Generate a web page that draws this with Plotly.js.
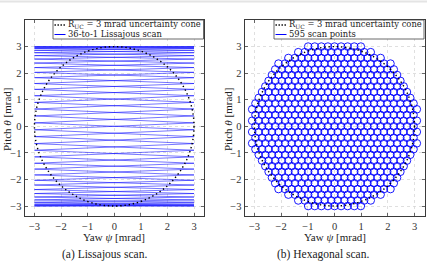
<!DOCTYPE html>
<html>
<head>
<meta charset="utf-8">
<script src="https://cdn.plot.ly/plotly-3.0.1.min.js"></script>
<style>
  html, body { margin: 0; padding: 0; background: #ffffff; }
  #chart { width: 427px; height: 261px; }
</style>
</head>
<body>
<div id="chart"></div>
<script>
// ---- Data -------------------------------------------------------------
// Radius of the uncertainty cone (mrad)
const coneRadius = 3;

// Lissajous scan: yaw amplitude (mrad) and the pitch at each sweep turn
// (positive half; the scan runs up through these, back down, then mirrors
// through the negative half)
const lissajousYawAmplitude = 3;
const lissajousPitchLevels = [0.13, 0.39, 0.65, 0.90, 1.15, 1.39, 1.61, 1.83, 2.03,
                              2.21, 2.38, 2.53, 2.66, 2.77, 2.86, 2.93, 2.97, 3.00];

// Hexagonal scan: pitch of each row (top to bottom), number of points in each
// row, and the yaw spacing between neighbouring points in a row
const hexRowPitch = [3.00, 2.79, 2.57, 2.36, 2.14, 1.93, 1.71, 1.50, 1.29, 1.07,
                     0.86, 0.64, 0.43, 0.21, 0.00, -0.21, -0.43, -0.64, -0.86, -1.07,
                     -1.29, -1.50, -1.71, -1.93, -2.14, -2.36, -2.57, -2.79, -3.00];
const hexRowCount = [9, 12, 15, 18, 19, 20, 21, 22, 23, 24, 25, 26, 25, 26, 25,
                     26, 25, 26, 25, 24, 23, 22, 21, 20, 19, 18, 15, 12, 9];
const hexYawSpacing = 0.247;

const tickValues = [-3, -2, -1, 0, 1, 2, 3];

// ---- Lissajous path: one turn point per sweep, alternating edges ----------
const n = lissajousPitchLevels.length;
const turnPitch = [];
for (let k = 0; k < n; k++) turnPitch.push(lissajousPitchLevels[k]);
for (let k = n - 1; k >= 0; k--) turnPitch.push(lissajousPitchLevels[k]);
for (let k = 0; k < n; k++) turnPitch.push(-lissajousPitchLevels[k]);
for (let k = n - 1; k >= 0; k--) turnPitch.push(-lissajousPitchLevels[k]);
const lisX = [], lisY = [];
turnPitch.forEach((p, k) => {
  lisX.push(k % 2 === 0 ? lissajousYawAmplitude : -lissajousYawAmplitude);
  lisY.push(p);
});
lisX.push(lisX[0]); lisY.push(lisY[0]);

// ---- Hexagonal grid points ------------------------------------------------
const hexX = [], hexY = [];
hexRowPitch.forEach((p, r) => {
  const c = hexRowCount[r];
  for (let j = 0; j < c; j++) {
    hexX.push((j - (c - 1) / 2) * hexYawSpacing);
    hexY.push(p);
  }
});

// ---- Layout helpers (pixel -> paper) --------------------------------------
const W = 427, H = 261;
const px = x => x / W;
const py = y => 1 - y / H;

const serif = 'Liberation Serif, Times New Roman, serif';
const wideSerif = 'DejaVu Serif, serif';
const blue = 'rgb(0,0,255)';

function axisCommon(extra) {
  return Object.assign({
    tickvals: tickValues,
    ticks: 'inside', ticklen: 3, tickwidth: 0.8, tickcolor: '#444',
    showline: true, linecolor: '#3a3a3a', linewidth: 1, mirror: 'ticks',
    showgrid: true, gridcolor: '#d2d2d2', gridwidth: 0.7, griddash: 'dot',
    zeroline: false,
    tickfont: { family: serif, size: 10.5, color: '#333' },
    fixedrange: true
  }, extra);
}

const yDomain = [py(216), py(20)];

const traces = [
  {
    x: lisX, y: lisY, xaxis: 'x', yaxis: 'y',
    type: 'scatter', mode: 'lines',
    line: { color: 'rgba(0,0,255,0.72)', width: 0.75 },
    hoverinfo: 'skip', showlegend: false
  },
  {
    x: hexX, y: hexY, xaxis: 'x2', yaxis: 'y2',
    type: 'scatter', mode: 'markers',
    marker: { symbol: 'circle-open', size: 7.6, color: blue, line: { width: 0.9, color: blue } },
    hoverinfo: 'skip', showlegend: false
  }
];

const cone = (xr, yr) => ({
  type: 'circle', xref: xr, yref: yr, layer: 'above',
  x0: -coneRadius, x1: coneRadius, y0: -coneRadius, y1: coneRadius,
  line: { color: '#000', width: 1.4, dash: '1.4px,2.8px' }
});

// Legend boxes: two rows, 9.5 px apart
const rowGap = 9.5;
function legendShapes(x0, x1, y0) {
  const y1 = y0 + 5 + rowGap + 4.5;
  const s = [];
  s.push({ type: 'rect', xref: 'paper', yref: 'paper', layer: 'above',
           x0: px(x0), x1: px(x1), y0: py(y1), y1: py(y0),
           fillcolor: '#fff', line: { color: '#444', width: 0.8 } });
  s.push({ type: 'line', xref: 'paper', yref: 'paper', layer: 'above',
           x0: px(x0 + 1.5), x1: px(x0 + 12.5), y0: py(y0 + 5), y1: py(y0 + 5),
           line: { color: '#000', width: 1.3, dash: '1.4px,1.6px' } });
  s.push({ type: 'line', xref: 'paper', yref: 'paper', layer: 'above',
           x0: px(x0 + 1.5), x1: px(x0 + 12.5), y0: py(y0 + 5 + rowGap), y1: py(y0 + 5 + rowGap),
           line: { color: blue, width: 1 } });
  return s;
}

function legendText(x0, y0, second) {
  const f = { family: wideSerif, size: 8.4, color: '#222' };
  return [
    { xref: 'paper', yref: 'paper', x: px(x0 + 13), y: py(y0 + 4.6), xanchor: 'left', yanchor: 'middle',
      text: 'R<sub>UC</sub> = 3 mrad uncertainty cone', showarrow: false, font: f },
    { xref: 'paper', yref: 'paper', x: px(x0 + 13), y: py(y0 + 4.8 + rowGap), xanchor: 'left', yanchor: 'middle',
      text: second, showarrow: false, font: f }
  ];
}

const titleFont = { family: serif, size: 11, color: '#222' };
const capFont = { family: serif, size: 11.5, color: '#222' };

const annotations = [
  { xref: 'paper', yref: 'paper', x: px(114), y: py(237), xanchor: 'center', yanchor: 'middle',
    text: 'Yaw <i>ψ</i> [mrad]', showarrow: false, font: titleFont },
  { xref: 'paper', yref: 'paper', x: px(334.5), y: py(237), xanchor: 'center', yanchor: 'middle',
    text: 'Yaw <i>ψ</i> [mrad]', showarrow: false, font: titleFont },
  { xref: 'paper', yref: 'paper', x: px(7), y: py(120), xanchor: 'center', yanchor: 'middle',
    text: 'Pitch <i>θ</i> [mrad]', textangle: -90, showarrow: false, font: titleFont },
  { xref: 'paper', yref: 'paper', x: px(228), y: py(120), xanchor: 'center', yanchor: 'middle',
    text: 'Pitch <i>θ</i> [mrad]', textangle: -90, showarrow: false, font: titleFont },
  { xref: 'paper', yref: 'paper', x: px(104), y: py(254), xanchor: 'center', yanchor: 'middle',
    text: '(a) Lissajous scan.', showarrow: false, font: capFont },
  { xref: 'paper', yref: 'paper', x: px(323), y: py(254), xanchor: 'center', yanchor: 'middle',
    text: '(b) Hexagonal scan.', showarrow: false, font: capFont }
].concat(legendText(53, 20, '36-to-1 Lissajous scan'))
 .concat(legendText(274, 20, '595 scan points'));

const shapes = [
  cone('x', 'y'), cone('x2', 'y2'),
  { type: 'line', xref: 'paper', yref: 'paper', x0: 0, x1: 1, y0: py(1.5), y1: py(1.5),
    line: { color: '#e4e4e4', width: 2 } }
].concat(legendShapes(53, 203.5, 20))
 .concat(legendShapes(274, 424, 20));

const layout = {
  width: W, height: H,
  margin: { l: 0, r: 0, t: 0, b: 0 },
  paper_bgcolor: '#fff', plot_bgcolor: '#fff',
  showlegend: false,
  xaxis: axisCommon({ domain: [px(24.5), px(204)], range: [-3.375, 3.375], anchor: 'y' }),
  yaxis: axisCommon({ domain: yDomain, range: [-3.375, 4], anchor: 'x' }),
  xaxis2: axisCommon({ domain: [px(244.5), px(424.5)], range: [-3.375, 3.375], anchor: 'y2' }),
  yaxis2: axisCommon({ domain: yDomain, range: [-3.375, 4], anchor: 'x2' }),
  shapes: shapes,
  annotations: annotations
};

Plotly.newPlot('chart', traces, layout, { staticPlot: true, displayModeBar: false });
</script>
</body>
</html>
